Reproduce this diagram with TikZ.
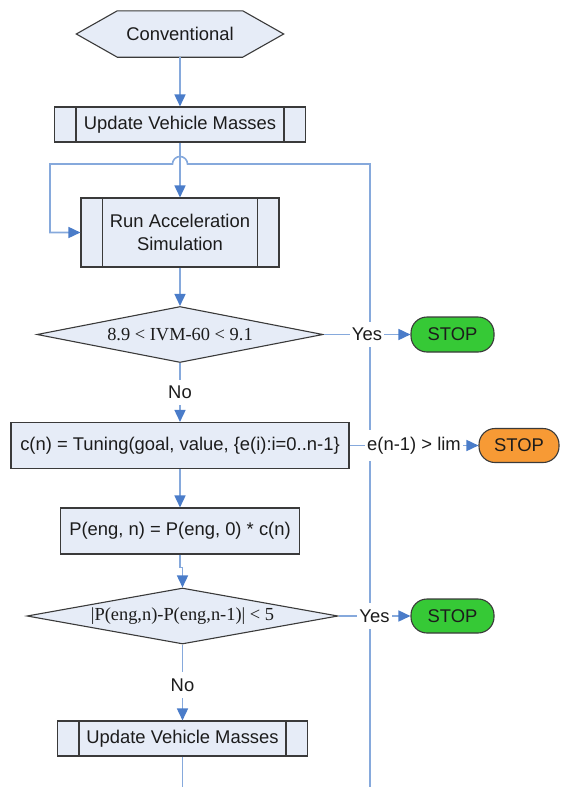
\documentclass[tikz,border=0pt]{standalone}
\usepackage{fontspec}
\setmainfont{Liberation Sans}
\newfontfamily\serifface{Liberation Serif}
\usetikzlibrary{shapes.geometric,arrows.meta,backgrounds}

\definecolor{boxfill}{HTML}{E6ECF7}
\definecolor{edge}{HTML}{3A3A3A}
\definecolor{wire}{HTML}{86A9DC}
\definecolor{tipblue}{HTML}{4A7CC9}
\definecolor{stopgreen}{HTML}{36C936}
\definecolor{stoporange}{HTML}{F79A35}
\definecolor{ink}{HTML}{1C1C1C}

\begin{document}
\begin{tikzpicture}[x=1pt,y=-1pt,
  every node/.style={font=\fontsize{18.4}{23}\selectfont, text=ink},
  base/.style={draw=edge, line width=1.1pt, fill=boxfill, inner sep=0pt},
  procbox/.style={base, rectangle},
  subproc/.style={base, rectangle, path picture={
     \draw[edge, line width=1.1pt]
       ([xshift=21.5pt]path picture bounding box.north west) -- ([xshift=21.5pt]path picture bounding box.south west)
       ([xshift=-21.5pt]path picture bounding box.north east) -- ([xshift=-21.5pt]path picture bounding box.south east);}},
  decision/.style={base, diamond, font=\serifface\fontsize{18.4}{23}\selectfont},
  terminal/.style={draw=edge, line width=1.1pt, rectangle, rounded corners=16pt, inner sep=0pt},
  conn/.style={draw=wire, line width=1.6pt},
  arr/.style={conn, -{Triangle[length=12pt,width=11pt,color=tipblue]}},
  lbl/.style={fill=white, inner xsep=2pt, inner ysep=6.5pt},
]
\useasboundingbox (0,0) rectangle (560,787);

% start terminal (hexagon)
\node[minimum width=207pt, minimum height=46pt, inner sep=0pt] (conv) at (180,34) {Conventional};
\begin{scope}[on background layer]
  \draw[edge, line width=1.1pt, fill=boxfill]
    (conv.west) -- ([xshift=41pt]conv.north west) -- ([xshift=-41pt]conv.north east)
    -- (conv.east) -- ([xshift=-41pt]conv.south east) -- ([xshift=41pt]conv.south west) -- cycle;
\end{scope}

% process steps
\node[subproc, minimum width=251pt, minimum height=35pt] (upd1) at (180,124.5) {Update Vehicle Masses};
\node[subproc, minimum width=198pt, minimum height=69pt, align=center] (run) at (180,232.5) {Run Acceleration\\Simulation};
\node[decision, minimum width=286pt, minimum height=56pt, aspect=5] (d1) at (180,334.5) {8.9 < IVM-60 < 9.1};
\node[procbox, minimum width=338pt, minimum height=46pt] (cbox) at (180,445.5) {c(n) = Tuning(goal, value, \{e(i):i=0..n-1\}};
\node[procbox, minimum width=239pt, minimum height=46pt] (pbox) at (180,531) {P(eng, n) = P(eng, 0) * c(n)};
\node[decision, minimum width=311pt, minimum height=56pt, aspect=5.5] (d2) at (182.5,616) {|P(eng,n)-P(eng,n-1)| < 5};
\node[subproc, minimum width=250pt, minimum height=35pt] (upd2) at (182.5,738.5) {Update Vehicle Masses};

% stop terminals
\node[terminal, fill=stopgreen, minimum width=83pt, minimum height=35pt] (stop1) at (452.5,334.5) {STOP};
\node[terminal, fill=stoporange, minimum width=80pt, minimum height=34pt] (stop2) at (519,445.5) {STOP};
\node[terminal, fill=stopgreen, minimum width=83pt, minimum height=34pt] (stop3) at (452.5,616) {STOP};

% free ends of the open connectors
\coordinate (loopfoot) at (370,787);
\coordinate (tail) at (182.5,787);

% return loop, hopping over the main line
\draw[arr] (loopfoot) -- (370,164) -- (187.5,164) arc[start angle=0, end angle=-180, radius=7.5]
  -- (50,164) |- (run.west);

% main flow
\draw[arr] (conv.south) -- (upd1.north);
\draw[arr] (upd1.south) -- (run.north);
\draw[arr] (run.south) -- (d1.north);
\draw[arr] (d1.east) -- node[lbl] {Yes} (stop1.west);
\draw[arr] (d1.south) -- node[lbl] {No} (cbox.north);
\draw[arr] (cbox.east) -- node[lbl] {e(n-1) > lim} (stop2.west);
\draw[arr] (cbox.south) -- (pbox.north);
\draw[arr] (pbox.south) -- ++(0,13) -| (d2.north);
\draw[arr] (d2.east) -- node[lbl] {Yes} (stop3.west);
\draw[arr] (d2.south) -- node[lbl, pos=0.53] {No} (upd2.north);
\draw[conn] (upd2.south) -- (tail);
\end{tikzpicture}
\end{document}
